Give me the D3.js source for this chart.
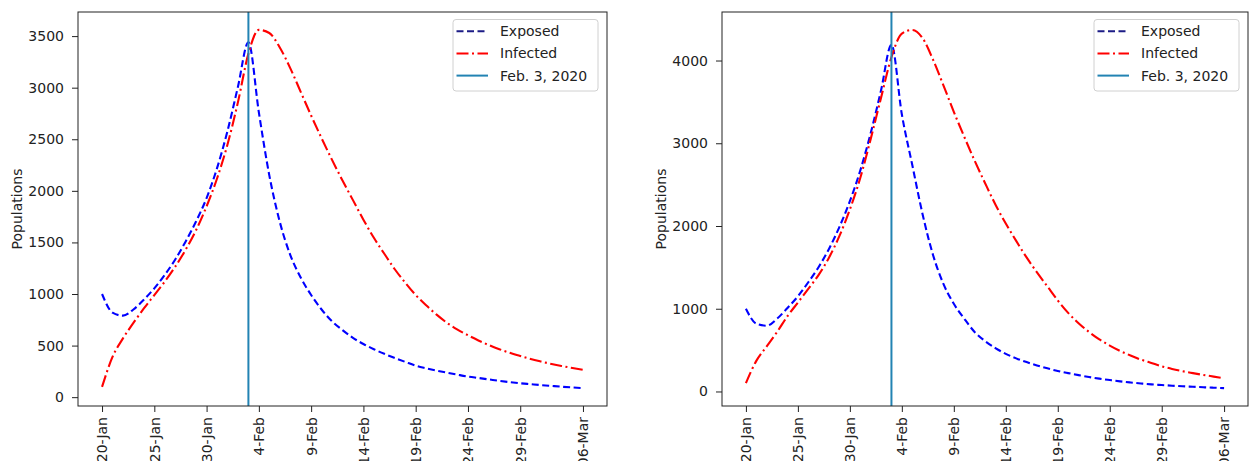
<!DOCTYPE html>
<html>
<head>
<meta charset="utf-8">
<script src="https://cdn.jsdelivr.net/npm/d3@7"></script>
<style>
  body { margin: 0; background: #fff; }
  text { font-family: "DejaVu Sans", sans-serif; fill: #222; }
</style>
</head>
<body>
<svg id="chart" width="1253" height="461"></svg>
<script>
// days after 20-Jan-2020
var dayOffsets = d3.range(0, 47);

var exposedA = [1000, 820, 790, 850, 945, 1055, 1185, 1335, 1510, 1705,
  1930, 2220, 2580, 3010, 3440, 2760, 2150, 1700, 1380, 1160,
  990, 850, 735, 650, 575, 515, 465, 420, 380, 342,
  305, 280, 258, 237, 218, 200, 186, 172, 158, 146,
  135, 126, 117, 109, 101, 94, 88];
var infectedA = [100, 390, 570, 720, 860, 990, 1120, 1265, 1430, 1620,
  1850, 2120, 2450, 2860, 3330, 3560, 3530, 3390, 3190, 2960,
  2730, 2510, 2300, 2100, 1910, 1720, 1545, 1390, 1240, 1110,
  990, 890, 800, 720, 655, 600, 550, 505, 465, 430,
  400, 370, 345, 322, 302, 283, 266];

var exposedB = [1000, 820, 795, 880, 1010, 1150, 1320, 1505, 1725, 1990,
  2300, 2670, 3120, 3640, 4190, 3350, 2740, 2140, 1650, 1300,
  1060, 880, 720, 610, 525, 455, 400, 355, 315, 280,
  248, 222, 198, 175, 155, 138, 122, 109, 97, 86,
  78, 70, 63, 57, 51, 46, 41];
var infectedB = [100, 370, 545, 720, 910, 1075, 1240, 1410, 1620, 1880,
  2200, 2580, 3050, 3550, 4040, 4325, 4370, 4270, 4010, 3700,
  3380, 3080, 2790, 2520, 2260, 2030, 1820, 1620, 1440, 1270,
  1100, 950, 825, 720, 630, 555, 490, 435, 385, 345,
  305, 272, 245, 222, 200, 180, 160];

var tickDays = [0, 5, 10, 15, 20, 25, 30, 35, 40, 46];
var tickLabels = ["20-Jan", "25-Jan", "30-Jan", "4-Feb", "9-Feb", "14-Feb", "19-Feb", "24-Feb", "29-Feb", "06-Mar"];
var yTicksA = [0, 500, 1000, 1500, 2000, 2500, 3000, 3500];
var yTicksB = [0, 1000, 2000, 3000, 4000];
var markDay = 14; // Feb. 3, 2020
var legendNames = ["Exposed", "Infected", "Feb. 3, 2020"];

var start = new Date(2020, 0, 20);
var DAY = 86400000;
function toDate(d) { return new Date(start.getTime() + d * DAY); }

var svg = d3.select("#chart");
var FS = "14px";

function drawPanel(cfg) {
  var g = svg.append("g");
  var left = cfg.x0, right = cfg.x1, top = 12, bottom = 406;

  var x = d3.scaleTime()
    .domain([toDate(-2.3), toDate(48.3)])
    .range([left, right]);

  var all = cfg.exposed.concat(cfg.infected);
  var lo = d3.min(all), hi = d3.max(all);
  var pad = (hi - lo) * 0.05;
  var y = d3.scaleLinear()
    .domain([lo - pad, hi + pad])
    .range([bottom, top]);

  // y axis
  var yAxis = g.append("g")
    .attr("transform", "translate(" + left + ",0)")
    .call(d3.axisLeft(y).tickValues(cfg.yTicks).tickSize(6).tickPadding(8).tickFormat(d3.format("d")));
  yAxis.select(".domain").remove();
  yAxis.selectAll("line").attr("stroke", "#222");
  yAxis.selectAll("text").style("font-size", FS).style("font-family", "DejaVu Sans");

  // x axis
  var xAxis = g.append("g")
    .attr("transform", "translate(0," + bottom + ")")
    .call(d3.axisBottom(x).tickValues(tickDays.map(toDate)).tickSize(6)
      .tickFormat(function (d, i) { return tickLabels[i]; }));
  xAxis.select(".domain").remove();
  xAxis.selectAll("line").attr("stroke", "#222");
  xAxis.selectAll("text")
    .style("font-size", FS)
    .style("font-family", "DejaVu Sans")
    .attr("text-anchor", "end")
    .attr("dy", "0.35em")
    .attr("y", 0)
    .attr("transform", "translate(0,11) rotate(-90)")
    .attr("x", 0);

  var line = d3.line()
    .x(function (d, i) { return x(toDate(dayOffsets[i])); })
    .y(function (d) { return y(d); })
    .curve(d3.curveMonotoneX);

  g.append("path")
    .datum(cfg.exposed)
    .attr("d", line)
    .attr("fill", "none")
    .attr("stroke", "#0000ff")
    .attr("stroke-width", 2.1)
    .attr("stroke-dasharray", "7,3.5");

  g.append("path")
    .datum(cfg.infected)
    .attr("d", line)
    .attr("fill", "none")
    .attr("stroke", "#ff0000")
    .attr("stroke-width", 2.1)
    .attr("stroke-dasharray", "12,3.5,2,3.5");

  g.append("line")
    .attr("x1", x(toDate(markDay)))
    .attr("x2", x(toDate(markDay)))
    .attr("y1", top)
    .attr("y2", bottom)
    .attr("stroke", "#2283b3")
    .attr("stroke-width", 2);

  // frame
  g.append("rect")
    .attr("x", left)
    .attr("y", top)
    .attr("width", right - left)
    .attr("height", bottom - top)
    .attr("fill", "none")
    .attr("stroke", "#222")
    .attr("stroke-width", 1);

  // y label
  g.append("text")
    .attr("transform", "translate(" + (left - 56) + "," + ((top + bottom) / 2) + ") rotate(-90)")
    .attr("text-anchor", "middle")
    .style("font-size", FS)
    .text("Populations");

  // legend
  var lx = right - 154, ly = 19.5;
  var leg = g.append("g").attr("transform", "translate(" + lx + "," + ly + ")");
  leg.append("rect")
    .attr("width", 145)
    .attr("height", 71.5)
    .attr("rx", 3)
    .attr("fill", "#fff")
    .attr("fill-opacity", 0.8)
    .attr("stroke", "#d0d0d0")
    .attr("stroke-width", 1);
  var handles = [
    { color: "#1c1c86", dash: "7,3.5" },
    { color: "#ff0000", dash: "12,3.5,2,3.5" },
    { color: "#2283b3", dash: null }
  ];
  handles.forEach(function (h, i) {
    var yy = 11.7 + i * 22.2;
    leg.append("line")
      .attr("x1", 3.5).attr("x2", 35)
      .attr("y1", yy).attr("y2", yy)
      .attr("stroke", h.color)
      .attr("stroke-width", 2)
      .attr("stroke-dasharray", h.dash);
    leg.append("text")
      .attr("x", 47)
      .attr("y", yy)
      .attr("dy", "0.35em")
      .style("font-size", FS)
      .text(legendNames[i]);
  });
}

drawPanel({ x0: 78, x1: 607, exposed: exposedA, infected: infectedA, yTicks: yTicksA });
drawPanel({ x0: 722, x1: 1248, exposed: exposedB, infected: infectedB, yTicks: yTicksB });
</script>
</body>
</html>
